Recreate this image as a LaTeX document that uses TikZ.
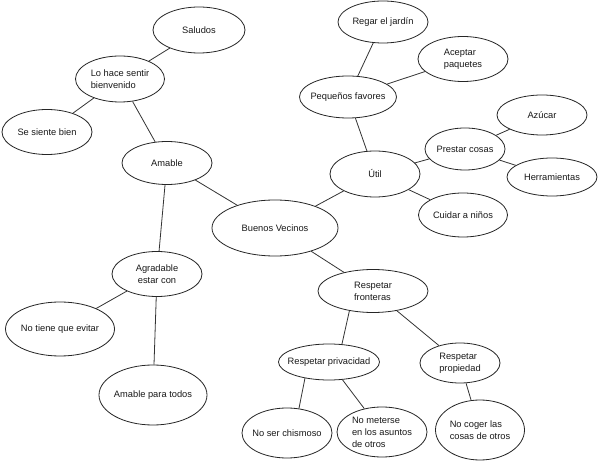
\documentclass[tikz,border=0pt]{standalone}
\usepackage{fontspec}
\setmainfont{Liberation Sans}
\usetikzlibrary{shapes.geometric}
\tikzset{
  bubble/.style={ellipse, draw=black!85, line width=0.8pt, inner sep=0pt},
  txt/.style={inner sep=0pt, font=\fontsize{9.3}{12}\selectfont, align=left, text=black!90},
  link/.style={draw=black!80, line width=0.8pt}
}
\begin{document}
\begin{tikzpicture}[x=1pt,y=-1pt]
\useasboundingbox[fill=white] (0,0) rectangle (600,462);
\node[bubble, minimum width=92pt, minimum height=46pt, label={[txt]center:{Saludos}}] (sal) at (199,30) {};
\node[bubble, minimum width=89pt, minimum height=46pt, label={[txt]center:{Lo hace sentir\\bienvenido}}] (lohace) at (120,79) {};
\node[bubble, minimum width=90pt, minimum height=45pt, label={[txt]center:{Se siente bien}}] (siente) at (47,132) {};
\node[bubble, minimum width=90pt, minimum height=43pt, label={[txt]center:{Amable}}] (amable) at (167,163) {};
\node[bubble, minimum width=126pt, minimum height=56pt, label={[txt]center:{Buenos Vecinos}}] (bv) at (275,228) {};
\node[bubble, minimum width=90pt, minimum height=45pt, label={[txt,align=center]center:{Agradable\\estar con}}] (agr) at (157,274) {};
\node[bubble, minimum width=109pt, minimum height=54pt, label={[txt]center:{No tiene que evitar}}] (evitar) at (60,329) {};
\node[bubble, minimum width=108pt, minimum height=60pt, label={[txt]center:{Amable para todos}}] (todos) at (153,395) {};
\node[bubble, minimum width=90pt, minimum height=42pt, label={[txt]center:{Regar el jardín}}] (regar) at (383,22) {};
\node[bubble, minimum width=90pt, minimum height=45pt, label={[txt]center:{Aceptar\\paquetes}}] (acep) at (463,59) {};
\node[bubble, minimum width=97pt, minimum height=42pt, label={[txt]center:{Pequeños favores}}] (peq) at (348,97) {};
\node[bubble, minimum width=90pt, minimum height=40pt, label={[txt]center:{Azúcar}}] (azu) at (542,115) {};
\node[bubble, minimum width=80pt, minimum height=42pt, label={[txt]center:{Prestar cosas}}] (prest) at (465,149) {};
\node[bubble, minimum width=90pt, minimum height=46pt, label={[txt]center:{Útil}}] (util) at (375,174) {};
\node[bubble, minimum width=90pt, minimum height=38pt, label={[txt]center:{Herramientas}}] (herr) at (552,177) {};
\node[bubble, minimum width=89pt, minimum height=44pt, label={[txt]center:{Cuidar a niños}}] (cuid) at (463,215) {};
\node[bubble, minimum width=110pt, minimum height=43pt, label={[txt]center:{Respetar\\fronteras}}] (front) at (373,291) {};
\node[bubble, minimum width=101pt, minimum height=36pt, label={[txt]center:{Respetar privacidad}}] (priv) at (329,362) {};
\node[bubble, minimum width=80pt, minimum height=40pt, label={[txt]center:{Respetar\\propiedad}}] (prop) at (460,363) {};
\node[bubble, minimum width=90pt, minimum height=50pt, label={[txt]center:{No ser chismoso}}] (chis) at (287,433) {};
\node[bubble, minimum width=90pt, minimum height=50pt, label={[txt]center:{No meterse\\en los asuntos\\de otros}}] (meter) at (382,432) {};
\node[bubble, minimum width=89pt, minimum height=60pt, label={[txt]center:{No coger las\\cosas de otros}}] (coger) at (480,430) {};
\foreach \a/\b in {sal/lohace, lohace/siente, lohace/amable, amable/bv, amable/agr, agr/evitar, agr/todos,
  bv/util, util/peq, peq/regar, peq/acep, util/prest, prest/azu, prest/herr, util/cuid,
  bv/front, front/prop, priv/meter, prop/coger}
  \draw[link] (\a) -- (\b);
\draw[link] (front.220) -- (priv.54);
\draw[link] (priv.214) -- (chis.64);
\end{tikzpicture}
\end{document}
